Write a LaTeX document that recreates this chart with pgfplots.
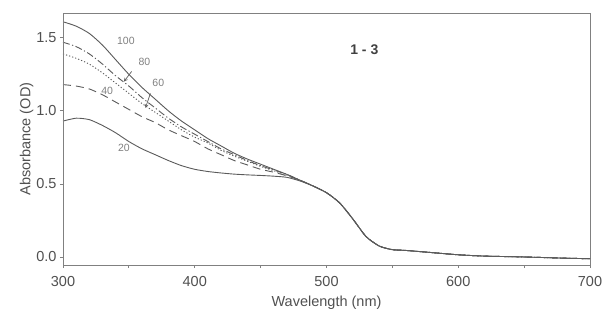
\documentclass[border=0pt]{standalone}
\usepackage{fontspec}
\setmainfont{Liberation Sans}
\usepackage{pgfplots}
\pgfplotsset{compat=1.18}
\definecolor{ln}{HTML}{5A5A5A}
\definecolor{tx}{HTML}{505050}
\begin{document}
\begin{tikzpicture}
\begin{axis}[
  scale only axis, width=527pt, height=252pt,
  xmin=300, xmax=700, ymin=-0.055, ymax=1.67,
  xtick={300,400,500,600,700}, minor xtick={350,450,550,650},
  ytick={0,0.5,1.0,1.5},
  yticklabel style={/pgf/number format/fixed,/pgf/number format/fixed zerofill,/pgf/number format/precision=1},
  /pgf/number format/assume math mode=true,
  tick align=outside, major tick length=3pt, minor tick length=3pt,
  axis line style={draw=gray, line width=0.9pt},
  tick style={draw=gray, line width=0.8pt},
  ticklabel style={font=\fontsize{14.5}{16}\selectfont, text=tx},
  xticklabel style={yshift=-5pt},
  xtick pos=bottom, ytick pos=left,
  xlabel={Wavelength (nm)}, ylabel={Absorbance (OD)},
  label style={font=\fontsize{14.5}{16}\selectfont, text=tx},
  xlabel style={yshift=-2pt}, ylabel style={yshift=-4pt},
  every axis plot/.append style={draw=ln, line width=0.9pt, smooth, tension=0.4},
  clip=true,
]
% 100
\addplot[solid] coordinates {(300,1.61)(310,1.58)(320,1.53)(330,1.45)(340,1.35)(350,1.25)(360,1.16)(370,1.08)(380,1.00)(390,0.93)(400,0.87)(410,0.81)(420,0.76)(430,0.71)(440,0.67)(450,0.635)(460,0.60)(470,0.565)(480,0.525)(490,0.485)(500,0.44)(510,0.37)(520,0.26)(530,0.14)(540,0.075)(550,0.05)(560,0.045)(580,0.03)(600,0.015)(620,0.006)(650,0.0)(680,-0.008)(700,-0.012)};
% 80
\addplot[dash pattern=on 7pt off 2.5pt on 1.2pt off 2.5pt] coordinates {(300,1.47)(310,1.44)(320,1.39)(330,1.32)(340,1.24)(350,1.17)(360,1.09)(370,1.02)(380,0.95)(390,0.89)(400,0.84)(410,0.79)(420,0.74)(430,0.70)(440,0.66)(450,0.625)(460,0.595)(470,0.565)(480,0.525)(490,0.485)(500,0.44)(510,0.37)(520,0.26)(530,0.14)(540,0.075)(550,0.05)(560,0.045)(580,0.03)(600,0.015)(620,0.006)(650,0.0)(680,-0.008)(700,-0.012)};
% 60
\addplot[dash pattern=on 1.2pt off 2pt] coordinates {(300,1.39)(310,1.36)(320,1.32)(330,1.26)(340,1.19)(350,1.12)(360,1.05)(370,0.99)(380,0.93)(390,0.87)(400,0.82)(410,0.78)(420,0.73)(430,0.69)(440,0.655)(450,0.62)(460,0.59)(470,0.56)(480,0.525)(490,0.485)(500,0.44)(510,0.37)(520,0.26)(530,0.14)(540,0.075)(550,0.05)(560,0.045)(580,0.03)(600,0.015)(620,0.006)(650,0.0)(680,-0.008)(700,-0.012)};
% 40
\addplot[dash pattern=on 8pt off 5pt] coordinates {(300,1.18)(310,1.17)(320,1.15)(330,1.11)(340,1.06)(350,1.01)(360,0.96)(370,0.92)(380,0.87)(390,0.83)(400,0.79)(410,0.74)(420,0.70)(430,0.66)(440,0.63)(450,0.60)(460,0.58)(470,0.555)(480,0.525)(490,0.485)(500,0.44)(510,0.37)(520,0.26)(530,0.14)(540,0.075)(550,0.05)(560,0.045)(580,0.03)(600,0.015)(620,0.006)(650,0.0)(680,-0.008)(700,-0.012)};
% 20
\addplot[solid] coordinates {(300,0.93)(310,0.95)(320,0.94)(330,0.90)(340,0.85)(350,0.79)(360,0.74)(370,0.70)(380,0.66)(390,0.625)(400,0.60)(410,0.585)(420,0.575)(430,0.567)(440,0.562)(450,0.558)(460,0.553)(470,0.545)(480,0.52)(490,0.485)(500,0.44)(510,0.37)(520,0.26)(530,0.14)(540,0.075)(550,0.05)(560,0.045)(580,0.03)(600,0.015)(620,0.006)(650,0.0)(680,-0.008)(700,-0.012)};
\draw[gray, line width=0.9pt] (rel axis cs:0,0) rectangle (rel axis cs:1,1);
\begin{scope}[every node/.style={font=\fontsize{10.5}{12}\selectfont, text=gray}]
\node at (axis cs:347.7,1.48) {100};
\node at (axis cs:361.8,1.336) {80};
\node at (axis cs:372.3,1.19) {60};
\node at (axis cs:333.5,1.14) {40};
\node at (axis cs:346.2,0.75) {20};
\end{scope}
\draw[ln, line width=0.7pt, -stealth] (axis cs:352.1,1.27) -- (axis cs:346.2,1.20);
\draw[ln, line width=0.7pt, -stealth] (axis cs:366.3,1.12) -- (axis cs:362.6,1.02);
\node[font=\bfseries\fontsize{14}{16}\selectfont, text=black!75] at (axis cs:528.7,1.42) {1 - 3};
\path (rel axis cs:0,1) ++(-63pt,13pt) coordinate (tl);
\path (rel axis cs:1,0) ++(12pt,-63pt) coordinate (br);
\end{axis}
\pgfresetboundingbox
\useasboundingbox (tl) rectangle (br);
\end{tikzpicture}
\end{document}
